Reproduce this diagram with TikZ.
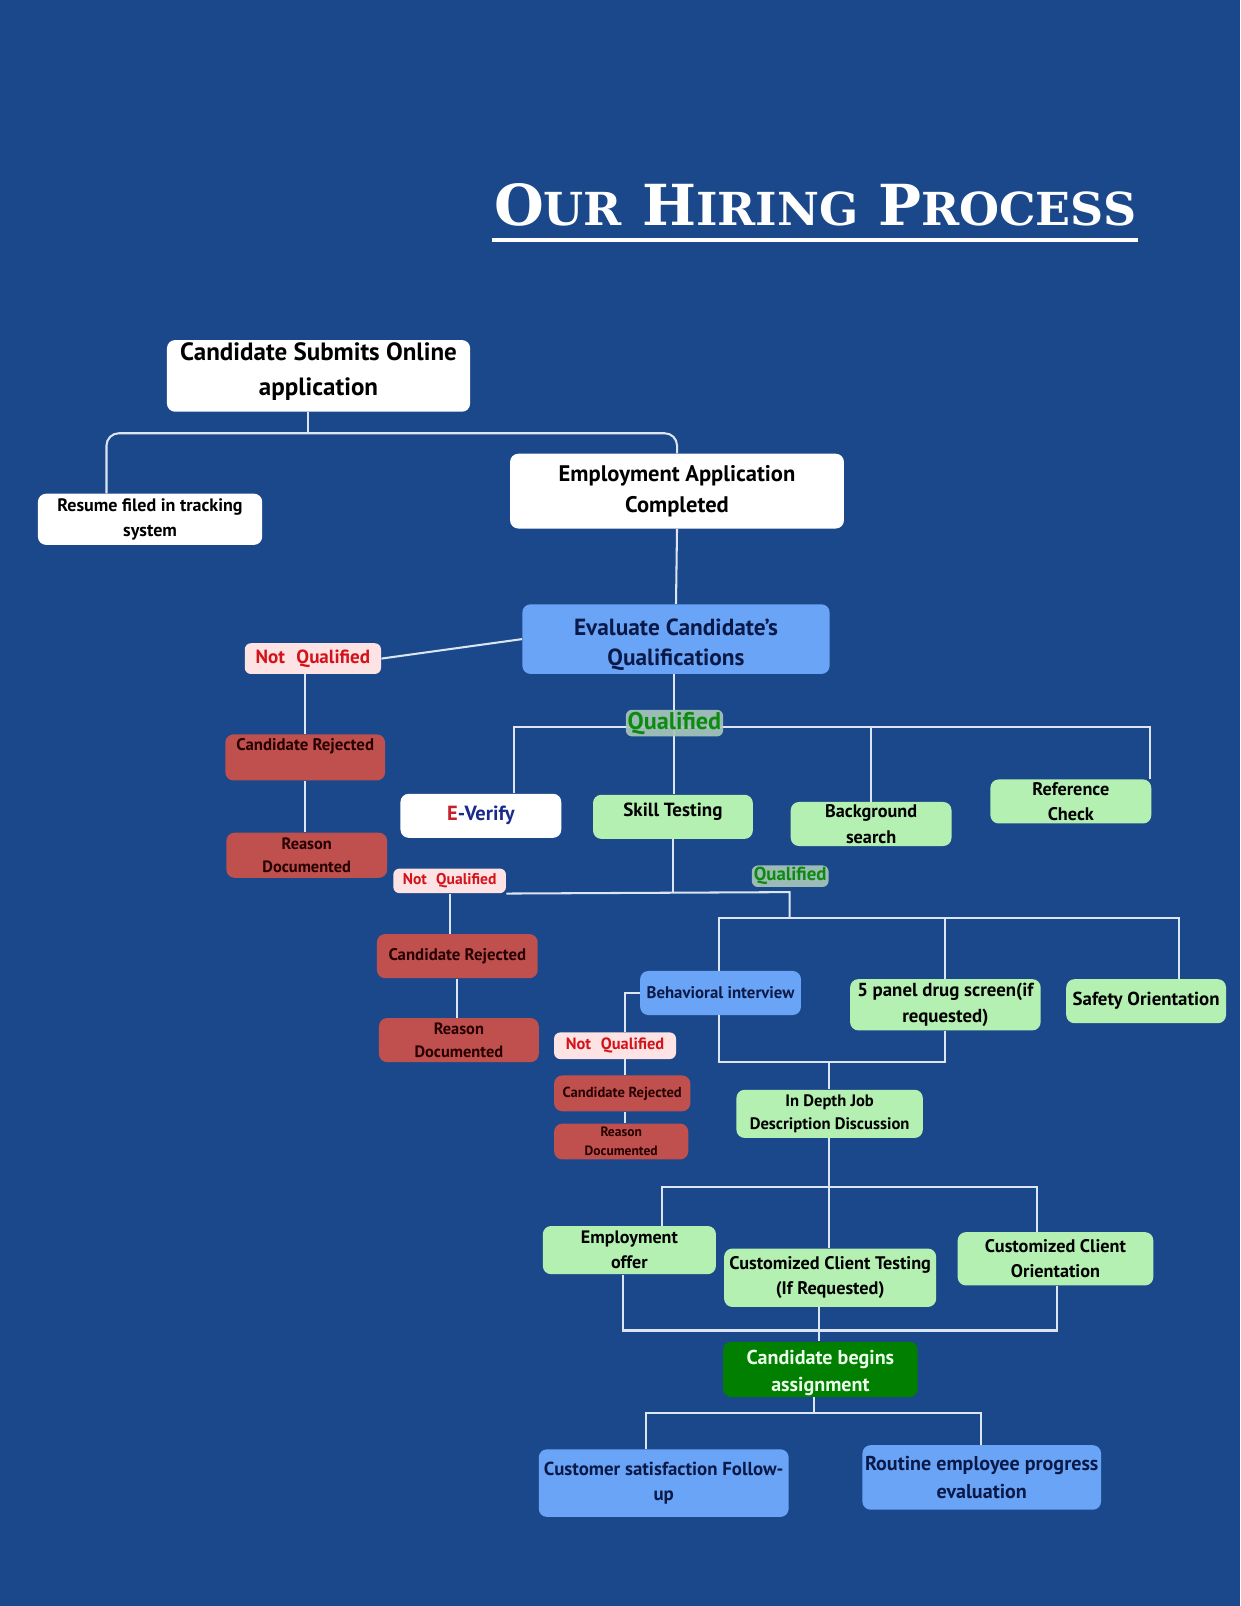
\documentclass[tikz,border=0pt]{standalone}
\usepackage{fontspec}
\usepackage{graphicx}
\setmainfont{PT Sans}
\newfontfamily\titlefont{DejaVu Serif}
\definecolor{bgc}{HTML}{1B488A}
\definecolor{lnc}{HTML}{DCE6F2}
\definecolor{bluebox}{HTML}{6AA4F7}
\definecolor{greenbox}{HTML}{B3F0B1}
\definecolor{redbox}{HTML}{C0504D}
\definecolor{pinkbox}{HTML}{FDE3E3}
\definecolor{qualbg}{HTML}{A6C6BA}
\definecolor{qualtxt}{HTML}{0E8A0E}
\definecolor{dgreen}{HTML}{007F00}
\definecolor{navytxt}{HTML}{0A1A48}
\definecolor{redtxt}{HTML}{D3121A}
\definecolor{ered}{HTML}{C8202A}
\definecolor{enavy}{HTML}{1A2A8A}
\newcommand\fs[2]{\fontsize{#1}{#2}\selectfont}
\newcommand\bx[7][]{\node[#1, minimum width={(#5-#3)*0.5pt}, minimum height={(#6-#4)*0.5pt}] (#2) at ({(#3+#5)/2},{(#4+#6)/2}) {#7};}
\newcommand\up[2]{\raisebox{#1}[\height][\depth]{#2}}
\newcommand\uptwo[3]{\raisebox{#1}[\height][\depth]{\begin{tabular}{@{}c@{}}#2\\#3\end{tabular}}}
\newcommand\nq{Not\hspace{0.6em}Qualified}
\tikzset{
  boxbase/.style={rounded corners=4pt, inner sep=0pt, align=center, font=\bfseries},
  wbox/.style={boxbase, fill=white, text=black},
  bbox/.style={boxbase, fill=bluebox, text=navytxt},
  gbox/.style={boxbase, fill=greenbox, text=black},
  rbox/.style={boxbase, fill=redbox, text=black!85!red},
  nqbox/.style={boxbase, rounded corners=3pt, fill=pinkbox, text=redtxt},
  qlbox/.style={boxbase, rounded corners=3pt, fill=qualbg, fill opacity=0.92, text opacity=1, text=qualtxt},
  dbox/.style={boxbase, fill=dgreen, text=green!8},
  ln/.style={draw=lnc, line width=1pt},
}
\begin{document}
\begin{tikzpicture}[x=0.5pt,y=-0.5pt]
\fill[bgc] (0,0) rectangle (1211,1568);
\useasboundingbox (0,0) rectangle (1211,1568);

% title
\node[anchor=base west, inner sep=0pt, text=white] (title) at (482,220)
  {\titlefont\bfseries\resizebox{313.5pt}{20.5pt}{\fs{28}{28}O\fs{22.5}{22.5}UR\fs{28}{28} H\fs{22.5}{22.5}IRING\fs{28}{28} P\fs{22.5}{22.5}ROCESS}};
\draw[white, line width=1.8pt] ([xshift=-1pt,yshift=-7pt]title.base west) -- ([xshift=0.5pt,yshift=-7pt]title.base east);

% boxes
\bx[wbox,font={\bfseries\fs{12.2}{17}}]{submit}{163}{332}{459}{402}{\uptwo{2.5pt}{Candidate Submits Online}{application}}
\bx[wbox,font={\bfseries\fs{8.8}{12}}]{resume}{37}{482}{256}{532}{Resume filed in tracking\\system}
\bx[wbox,font={\bfseries\fs{11}{15.5}}]{empapp}{498}{443}{824}{516}{Employment Application\\Completed}
\bx[bbox,font={\bfseries\fs{11.4}{15}}]{evaluate}{510}{590}{810}{658}{\uptwo{-2.5pt}{Evaluate Candidate’s}{Qualifications}}
\bx[nqbox,font={\bfseries\fs{9.3}{11}}]{nq1}{239}{628}{372}{658}{\nq}
\bx[rbox,font={\bfseries\fs{8.2}{10}}]{cr1}{220}{717}{376}{762}{\up{5.5pt}{Candidate Rejected}}
\bx[rbox,font={\bfseries\fs{8}{11}}]{rd1}{221}{813}{378}{857}{Reason\\Documented}
\bx[wbox,font={\bfseries\fs{10}{12}}]{everify}{391}{775}{548}{818}{{\color{ered}E}{\color{enavy}-Verify}}
\bx[gbox,font={\bfseries\fs{9.3}{11}}]{skill}{579}{776}{735}{819}{\up{2.5pt}{Skill Testing}}
\bx[gbox,font={\bfseries\fs{8.9}{12.5}}]{bgd}{772}{783}{929}{826}{Background\\search}
\bx[gbox,font={\bfseries\fs{8.9}{12.5}}]{reference}{967}{761}{1124}{804}{Reference\\Check}
\bx[nqbox,font={\bfseries\fs{7.6}{9}}]{nq2}{384}{848}{494}{872}{\nq}
\bx[rbox,font={\bfseries\fs{8.2}{10}}]{cr2}{368}{912}{525}{955}{Candidate Rejected}
\bx[rbox,font={\bfseries\fs{8}{11}}]{rd2}{370}{994}{526}{1037}{Reason\\Documented}
\bx[bbox,font={\bfseries\fs{8.2}{10}}]{behav}{625}{948}{782}{991}{Behavioral interview}
\bx[gbox,font={\bfseries\fs{9.2}{12.5}}]{drug}{830}{956}{1016}{1006}{5 panel drug screen(if\\requested)}
\bx[gbox,font={\bfseries\fs{9.2}{11}}]{safety}{1041}{956}{1197}{999}{Safety Orientation}
\bx[nqbox,font={\bfseries\fs{8}{10}}]{nq3}{541}{1008}{660}{1034}{\nq}
\bx[rbox,font={\bfseries\fs{7.1}{9}}]{cr3}{541}{1050}{674}{1085}{Candidate Rejected}
\bx[rbox,font={\bfseries\fs{6.6}{9.5}}]{rd3}{541}{1097}{672}{1132}{Reason\\Documented}
\bx[gbox,font={\bfseries\fs{8.1}{11.5}}]{indepth}{719}{1064}{901}{1111}{In Depth Job\\Description Discussion}
\bx[gbox,font={\bfseries\fs{8.8}{12}}]{empoffer}{530}{1197}{699}{1244}{Employment\\offer}
\bx[gbox,font={\bfseries\fs{8.9}{12}}]{custtest}{707}{1219}{914}{1276}{Customized Client Testing\\(If Requested)}
\bx[gbox,font={\bfseries\fs{8.9}{12.5}}]{custorient}{935}{1203}{1126}{1255}{Customized Client\\Orientation}
\bx[dbox,font={\bfseries\fs{9.8}{13.5}}]{begins}{706}{1311}{896}{1363}{\uptwo{-1.5pt}{Candidate begins}{assignment}}
\bx[bbox,font={\bfseries\fs{9.2}{12.5}}]{custsat}{526}{1415}{770}{1481}{Customer satisfaction Follow-\\up}
\bx[bbox,font={\bfseries\fs{9.8}{13.5}}]{routine}{842}{1411}{1075}{1474}{Routine employee progress\\evaluation}

% connectors
\coordinate (j1) at (301,423);
\coordinate (j1l) at (104,423);
\draw[ln] (j1 |- submit.south) -- (j1);
\draw[ln, rounded corners=6pt] (j1l |- resume.north) -- (j1l) -- (j1l -| empapp.north) -- (empapp.north);
\draw[ln] (empapp.south) -- (evaluate.north);
\draw[ln] (evaluate.west) -- (nq1.east);
\draw[ln] (cr1.north |- nq1.south) -- (cr1.north);
\draw[ln] (cr1.south) -- (cr1.south |- rd1.north);
\coordinate (qm) at (658,710);
\coordinate (ql) at (502,710);
\coordinate (qr) at (1123,710);
\draw[ln] (qm |- evaluate.south) -- (qm |- skill.north);
\draw[ln] (ql |- everify.north) -- (ql) -- (qr) -- (qr |- reference.north);
\draw[ln] (bgd.north |- qr) -- (bgd.north);
\coordinate (s1) at (771,871);
\coordinate (s2) at (771,896);
\draw[ln] (skill.south) -- (skill.south |- s1);
\draw[ln] (nq2.south east) -- (s1) -- (s2);
\coordinate (bl2) at (702,896);
\coordinate (br2) at (1151,896);
\draw[ln] (bl2 |- behav.north) -- (bl2) -- (br2) -- (br2 |- safety.north);
\draw[ln] (drug.north |- br2) -- (drug.north);
\draw[ln] (nq2.south) -- (nq2.south |- cr2.north);
\draw[ln] (cr2.south) -- (cr2.south |- rd2.north);
\coordinate (bx) at (610,1000);
\draw[ln] (behav.west) -- (behav.west -| bx) -- (bx |- nq3.north);
\draw[ln] (bx |- nq3.south) -- (bx |- cr3.north);
\draw[ln] (bx |- cr3.south) -- (bx |- rd3.north);
\coordinate (j5) at (809,1037);
\draw[ln] (bl2 |- behav.south) -- (bl2 |- j5) -- (j5 -| drug.south) -- (drug.south);
\draw[ln] (j5) -- (j5 |- indepth.north);
\coordinate (j6l) at (646,1159);
\coordinate (j6r) at (1012,1159);
\draw[ln] (j5 |- indepth.south) -- (j5 |- custtest.north);
\draw[ln] (j6l |- empoffer.north) -- (j6l) -- (j6r) -- (j6r |- custorient.north);
\coordinate (k1) at (608,1299);
\coordinate (k2) at (1032,1299);
\coordinate (k3) at (800,1299);
\draw[ln] (k1 |- empoffer.south) -- (k1) -- (k2) -- (k2 |- custorient.south);
\draw[ln] (k3 |- custtest.south) -- (k3 |- begins.north);
\coordinate (m) at (795,1380);
\coordinate (ml) at (631,1380);
\coordinate (mr) at (958,1380);
\draw[ln] (m |- begins.south) -- (m);
\draw[ln] (ml |- custsat.north) -- (ml) -- (mr) -- (mr |- routine.north);

% qualified labels
\bx[qlbox,font={\bfseries\fs{11.8}{13}}]{qual1}{611}{693}{706}{719}{Qualified}
\bx[qlbox,font={\bfseries\fs{9.2}{10}}]{qual2}{734}{845}{809}{866}{Qualified}
\end{tikzpicture}
\end{document}
